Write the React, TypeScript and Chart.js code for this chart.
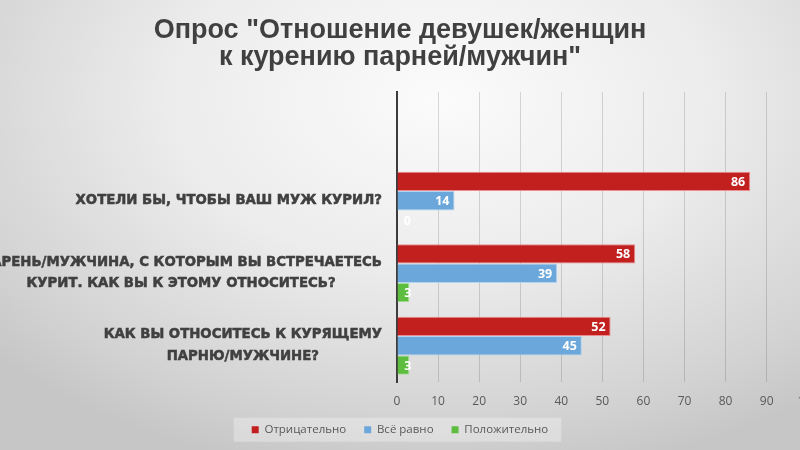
import { useEffect, useRef } from "react";
import { Chart, registerables, Plugin } from "chart.js";

Chart.register(...registerables);

// вопросы опроса (сверху вниз), первая строка пустая как в исходнике
const categories: string[][] = [
  [""],
  ["ХОТЕЛИ БЫ, ЧТОБЫ ВАШ МУЖ КУРИЛ?"],
  ["ПАРЕНЬ/МУЖЧИНА, С КОТОРЫМ ВЫ ВСТРЕЧАЕТЕСЬ", "КУРИТ. КАК ВЫ К ЭТОМУ ОТНОСИТЕСЬ?"],
  ["КАК ВЫ ОТНОСИТЕСЬ К КУРЯЩЕМУ", "ПАРНЮ/МУЖЧИНЕ?"],
];
const negative = [null, 86, 58, 52];
const indifferent = [null, 14, 39, 45];
const positive = [null, 0, 3, 3];
const xTicks = [0, 10, 20, 30, 40, 50, 60, 70, 80, 90, 100];

const seriesNames = ["Отрицательно", "Всё равно", "Положительно"];

// подписи категорий: строки центрируются друг относительно друга
const categoryLabels: Plugin<"bar"> = {
  id: "categoryLabels",
  afterDraw(chart) {
    const { ctx, chartArea } = chart;
    const y = chart.scales.y;
    ctx.save();
    ctx.font = "bold 13.3px 'DejaVu Sans'";
    ctx.fillStyle = "#404040";
    ctx.strokeStyle = "#404040";
    ctx.lineWidth = 0.5;
    ctx.textAlign = "center";
    ctx.textBaseline = "middle";
    categories.forEach((lines, i) => {
      const cy = y.getPixelForTick(i);
      const widest = Math.max(...lines.map((l) => ctx.measureText(l).width));
      const cx = chartArea.left - 15 - widest / 2;
      lines.forEach((line, k) => {
        const ly = cy + (k - (lines.length - 1) / 2) * 21.5;
        ctx.fillText(line, cx, ly);
        ctx.strokeText(line, cx, ly);
      });
    });
    ctx.restore();
  },
};

// значения внутри конца столбца
const valueLabels: Plugin<"bar"> = {
  id: "valueLabels",
  afterDatasetsDraw(chart) {
    const { ctx } = chart;
    ctx.save();
    ctx.font = "bold 12.5px 'Open Sans'";
    ctx.fillStyle = "#ffffff";
    ctx.textAlign = "right";
    ctx.textBaseline = "middle";
    chart.data.datasets.forEach((ds, di) => {
      const meta = chart.getDatasetMeta(di);
      meta.data.forEach((bar: any, i) => {
        const v = ds.data[i];
        if (v === null || v === undefined) return;
        const x = Math.max(bar.x - 5, bar.base + 14);
        ctx.fillText(String(v), x, bar.y + 1);
      });
    });
    ctx.restore();
  },
};

// светлая подложка легенды
const legendBack: Plugin<"bar"> = {
  id: "legendBack",
  beforeDraw(chart) {
    const boxes = (chart.legend as any)?.legendHitBoxes as
      | { left: number; top: number; width: number; height: number }[]
      | undefined;
    if (!boxes || !boxes.length) return;
    const left = Math.min(...boxes.map((b) => b.left)) - 18;
    const right = Math.max(...boxes.map((b) => b.left + b.width)) + 13;
    const cy = boxes[0].top + boxes[0].height / 2;
    const { ctx } = chart;
    ctx.save();
    ctx.fillStyle = "rgba(255,255,255,0.3)";
    ctx.fillRect(left, cy - 12, right - left, 24);
    ctx.restore();
  },
};

const App = () => {
  const canvasRef = useRef<HTMLCanvasElement | null>(null);
  const chartRef = useRef<Chart | null>(null);

  useEffect(() => {
    if (!canvasRef.current) return;
    if (chartRef.current) chartRef.current.destroy();

    chartRef.current = new Chart(canvasRef.current, {
      type: "bar",
      data: {
        labels: categories.map((c) => c.join(" ")),
        datasets: [
          {
            label: seriesNames[0],
            data: negative,
            backgroundColor: "#c21f1f",
            borderColor: "#ec8c8c",
            borderWidth: 1,
          },
          {
            label: seriesNames[1],
            data: indifferent,
            backgroundColor: "#6ba7da",
            borderColor: "#b3d3ef",
            borderWidth: 1,
          },
          {
            label: seriesNames[2],
            data: positive,
            backgroundColor: "#5cbd3e",
            borderColor: "#a6e092",
            borderWidth: 1,
          },
        ],
      },
      options: {
        indexAxis: "y",
        responsive: false,
        animation: false,
        layout: { padding: { top: 0, right: 13, bottom: 12, left: 13 } },
        datasets: { bar: { categoryPercentage: 0.8, barPercentage: 1.0 } },
        scales: {
          x: {
            min: 0,
            max: 100,
            afterBuildTicks: (s) => {
              s.ticks = xTicks.map((v) => ({ value: v }));
            },
            afterFit: (s) => {
              s.height = 24;
            },
            grid: {
              color: "rgba(0,0,0,0.14)",
              lineWidth: 1,
              drawTicks: false,
            },
            border: { display: false },
            ticks: {
              padding: 12,
              color: "#595959",
              font: { family: "'Open Sans'", size: 12 },
            },
          },
          y: {
            grid: { display: false, drawTicks: false },
            border: { display: true, color: "#3c3c3c", width: 2 },
            ticks: { display: false },
            afterFit: (s) => {
              s.width = 414;
            },
          },
        },
        plugins: {
          title: {
            display: true,
            text: ['Опрос "Отношение девушек/женщин', 'к курению парней/мужчин"'],
            color: "#404040",
            font: { family: "'Liberation Sans'", size: 27, weight: "bold", lineHeight: 1.0 },
            padding: { top: 17, bottom: 21 },
          },
          legend: {
            position: "bottom",
            maxHeight: 32,
            labels: {
              boxWidth: 7,
              boxHeight: 7,
              padding: 18,
              color: "#595959",
              font: { family: "'Open Sans'", size: 11.5 },
              generateLabels: (chart) =>
                Chart.defaults.plugins.legend.labels
                  .generateLabels(chart)
                  .map((l) => ({ ...l, strokeStyle: l.fillStyle, lineWidth: 0 })),
            },
          },
          tooltip: { enabled: false },
        },
      },
      plugins: [legendBack, categoryLabels, valueLabels],
    });

    return () => {
      chartRef.current?.destroy();
      chartRef.current = null;
    };
  }, []);

  return (
    <div
      style={{
        position: "fixed",
        left: 0,
        top: 0,
        width: 800,
        height: 450,
        overflow: "hidden",
        background:
          "radial-gradient(ellipse 75% 85% at 55% 22%, #fbfbfb 0%, #ececec 45%, #d2d2d2 85%, #c6c6c6 100%)",
      }}
    >
      <canvas
        ref={canvasRef}
        width={860}
        height={450}
        style={{ position: "absolute", left: -30, top: 0, width: 860, height: 450 }}
      />
    </div>
  );
};

export default App;
